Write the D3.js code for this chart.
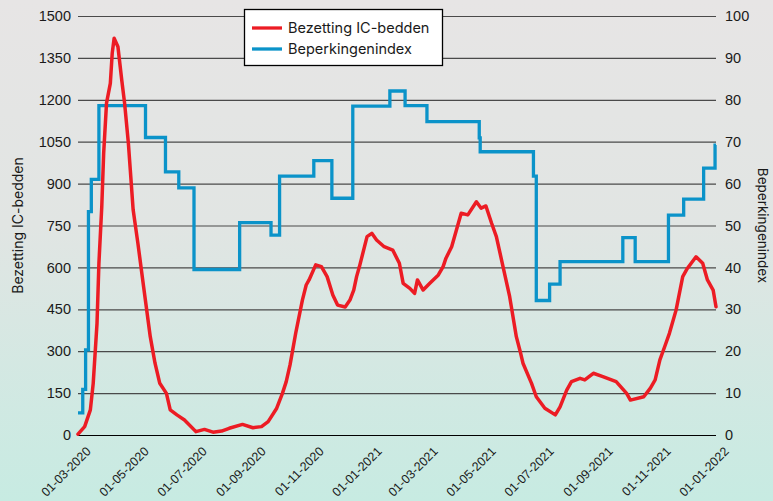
<html>
<head>
<meta charset="utf-8">
<script src="https://d3js.org/d3.v7.min.js"></script>
<style>
  body { margin: 0; }
  svg { display: block; font-family: Inter, "Noto Sans", sans-serif; }
  .grid line { stroke: #4a4a4a; stroke-width: 1.2px; }
  .grid .zero line { stroke: #000; stroke-width: 1.2px; }
  .grid path, .axis-r path, .axis-x path { display: none; }
  .tick text { fill: #1a1a1a; }
</style>
</head>
<body>
<svg id="chart" width="773" height="501"></svg>
<script>
// Bezetting IC-bedden (left axis)
const icDates = ["2020-03-01","2020-03-08","2020-03-14","2020-03-17","2020-03-21","2020-03-23","2020-03-26","2020-03-28","2020-03-31","2020-04-04","2020-04-06","2020-04-08","2020-04-12","2020-04-16","2020-04-19","2020-04-23","2020-04-25","2020-04-28","2020-05-03","2020-05-09","2020-05-16","2020-05-21","2020-05-26","2020-06-02","2020-06-06","2020-06-13","2020-06-21","2020-07-03","2020-07-12","2020-07-21","2020-07-30","2020-08-07","2020-08-21","2020-09-01","2020-09-10","2020-09-17","2020-09-26","2020-10-02","2020-10-06","2020-10-10","2020-10-16","2020-10-23","2020-10-27","2020-10-30","2020-11-06","2020-11-12","2020-11-18","2020-11-24","2020-11-29","2020-12-07","2020-12-12","2020-12-16","2020-12-19","2020-12-22","2020-12-30","2021-01-04","2021-01-09","2021-01-17","2021-01-26","2021-02-02","2021-02-06","2021-02-13","2021-02-18","2021-02-21","2021-02-27","2021-03-06","2021-03-15","2021-03-20","2021-03-23","2021-03-29","2021-04-03","2021-04-08","2021-04-15","2021-04-24","2021-04-29","2021-05-04","2021-05-10","2021-05-15","2021-05-22","2021-05-29","2021-06-05","2021-06-09","2021-06-12","2021-06-21","2021-06-26","2021-07-05","2021-07-16","2021-07-21","2021-07-28","2021-08-02","2021-08-11","2021-08-16","2021-08-25","2021-09-04","2021-09-18","2021-09-29","2021-10-03","2021-10-17","2021-10-24","2021-10-29","2021-11-03","2021-11-08","2021-11-13","2021-11-20","2021-11-27","2021-12-02","2021-12-11","2021-12-18","2021-12-23","2021-12-29","2022-01-01"];
const icValues = [3,30,90,185,400,615,817,1009,1188,1259,1367,1420,1390,1271,1188,1044,949,806,686,531,352,257,185,149,90,72,54,12,20,10,14,24,38,26,30,48,96,149,191,251,365,483,537,555,609,603,567,501,465,458,483,519,567,603,710,722,698,674,662,615,543,525,507,555,519,543,573,603,633,674,734,794,788,835,812,820,758,710,603,495,352,300,257,185,137,96,72,101,161,191,203,197,221,209,191,149,125,137,168,197,269,316,364,447,567,597,638,615,555,519,459];

// Beperkingenindex (right axis, step changes)
const idxDates = ["2020-03-01","2020-03-06","2020-03-09","2020-03-12","2020-03-15","2020-03-23","2020-05-11","2020-06-01","2020-06-15","2020-07-01","2020-08-18","2020-09-20","2020-09-29","2020-11-04","2020-11-23","2020-12-15","2021-01-23","2021-02-08","2021-03-03","2021-04-27","2021-04-28","2021-06-23","2021-06-26","2021-07-10","2021-07-21","2021-09-25","2021-10-08","2021-11-12","2021-11-28","2021-12-19","2021-12-31","2022-01-01"];
const idxValues = [5.3,10.9,20.3,53.3,61.0,78.6,71.0,62.8,59.0,39.5,50.7,47.7,61.8,65.5,56.5,78.5,82.1,78.6,74.8,70.9,67.6,61.8,32.1,36.0,41.4,47.1,41.4,52.5,56.3,63.7,69.2,69.2];

const leftTicks = [0,150,300,450,600,750,900,1050,1200,1350,1500];
const rightTicks = [0,10,20,30,40,50,60,70,80,90,100];
const xTicks = ["2020-03-01","2020-05-01","2020-07-01","2020-09-01","2020-11-01","2021-01-01","2021-03-01","2021-05-01","2021-07-01","2021-09-01","2021-11-01","2022-01-01"];

const seriesNames = ["Bezetting IC-bedden", "Beperkingenindex"];
const seriesColors = ["#ec1c24", "#0b93c9"];

const parse = d3.timeParse("%Y-%m-%d");
const fmt = d3.timeFormat("%d-%m-%Y");

const svg = d3.select("svg#chart");
const width = +svg.attr("width");
const height = +svg.attr("height");
const margin = { top: 16, right: 57, bottom: 66, left: 78 };
const plotW = width - margin.left - margin.right;
const plotH = height - margin.top - margin.bottom;

// background
const grad = svg.append("defs").append("linearGradient")
    .attr("id", "bg").attr("x1", 0).attr("y1", 0).attr("x2", 0).attr("y2", 1);
grad.append("stop").attr("offset", "0%").attr("stop-color", "#e7e5e5");
grad.append("stop").attr("offset", "45%").attr("stop-color", "#e1e5e3");
grad.append("stop").attr("offset", "100%").attr("stop-color", "#c7ebe2");
svg.append("rect").attr("width", width).attr("height", height).attr("fill", "url(#bg)");

const g = svg.append("g").attr("transform", "translate(" + margin.left + "," + margin.top + ")");

const x = d3.scaleTime().domain([parse("2020-03-01"), parse("2022-01-01")]).range([0, plotW]);
const yL = d3.scaleLinear().domain([0, 1500]).range([plotH, 0]);
const yR = d3.scaleLinear().domain([0, 100]).range([plotH, 0]);

// gridlines + left labels
const gridAxis = g.append("g").attr("class", "grid")
    .call(d3.axisLeft(yL).tickValues(leftTicks).tickFormat(d3.format("d")).tickSize(-plotW).tickPadding(7));
gridAxis.selectAll(".tick").classed("zero", d => d === 0);
gridAxis.selectAll("text").style("font-size", "14.5px");

// right labels
const rAxis = g.append("g").attr("class", "axis-r")
    .attr("transform", "translate(" + plotW + ",0)")
    .call(d3.axisRight(yR).tickValues(rightTicks).tickSize(0).tickPadding(9));
rAxis.selectAll("text").style("font-size", "14.5px");

// x labels, rotated
const xAxis = g.append("g").attr("class", "axis-x")
    .attr("transform", "translate(0," + plotH + ")")
    .call(d3.axisBottom(x).tickValues(xTicks.map(parse)).tickFormat(fmt).tickSize(0));
xAxis.selectAll("text")
    .attr("text-anchor", "end")
    .attr("dy", 0)
    .attr("transform", "translate(11,15) rotate(-45)")
    .style("font-size", "12.5px");

// lines
const icData = icDates.map((d, i) => ({ date: parse(d), value: icValues[i] }));
const idxData = idxDates.map((d, i) => ({ date: parse(d), value: idxValues[i] }));

g.append("path").datum(idxData)
    .attr("fill", "none")
    .attr("stroke", seriesColors[1])
    .attr("stroke-width", 3.3)
    .attr("d", d3.line().x(d => x(d.date)).y(d => yR(d.value)).curve(d3.curveStepAfter));

g.append("path").datum(icData)
    .attr("fill", "none")
    .attr("stroke", seriesColors[0])
    .attr("stroke-width", 3.5)
    .attr("stroke-linejoin", "round")
    .attr("stroke-linecap", "round")
    .attr("d", d3.line().x(d => x(d.date)).y(d => yL(d.value)));

// axis titles
svg.append("text")
    .attr("transform", "translate(23," + (margin.top + plotH / 2) + ") rotate(-90)")
    .attr("text-anchor", "middle")
    .style("font-size", "14px").attr("fill", "#1a1a1a")
    .text(seriesNames[0]);
svg.append("text")
    .attr("transform", "translate(758," + (margin.top + plotH / 2) + ") rotate(90)")
    .attr("text-anchor", "middle")
    .style("font-size", "13.5px").attr("fill", "#1a1a1a")
    .text(seriesNames[1]);

// legend
const legend = svg.append("g").attr("transform", "translate(244,9)");
legend.append("rect").attr("x", 0.5).attr("y", 0.5).attr("width", 198).attr("height", 56)
    .attr("fill", "#fff").attr("stroke", "#000").attr("stroke-width", 1.3);
seriesNames.forEach((name, i) => {
    const row = legend.append("g").attr("transform", "translate(0," + (19 + i * 21) + ")");
    row.append("line").attr("x1", 8).attr("x2", 38)
        .attr("stroke", seriesColors[i]).attr("stroke-width", 3.3);
    row.append("text").attr("x", 44).attr("y", 5)
        .style("font-size", "14.5px").attr("fill", "#1a1a1a")
        .text(name);
});
</script>
</body>
</html>
